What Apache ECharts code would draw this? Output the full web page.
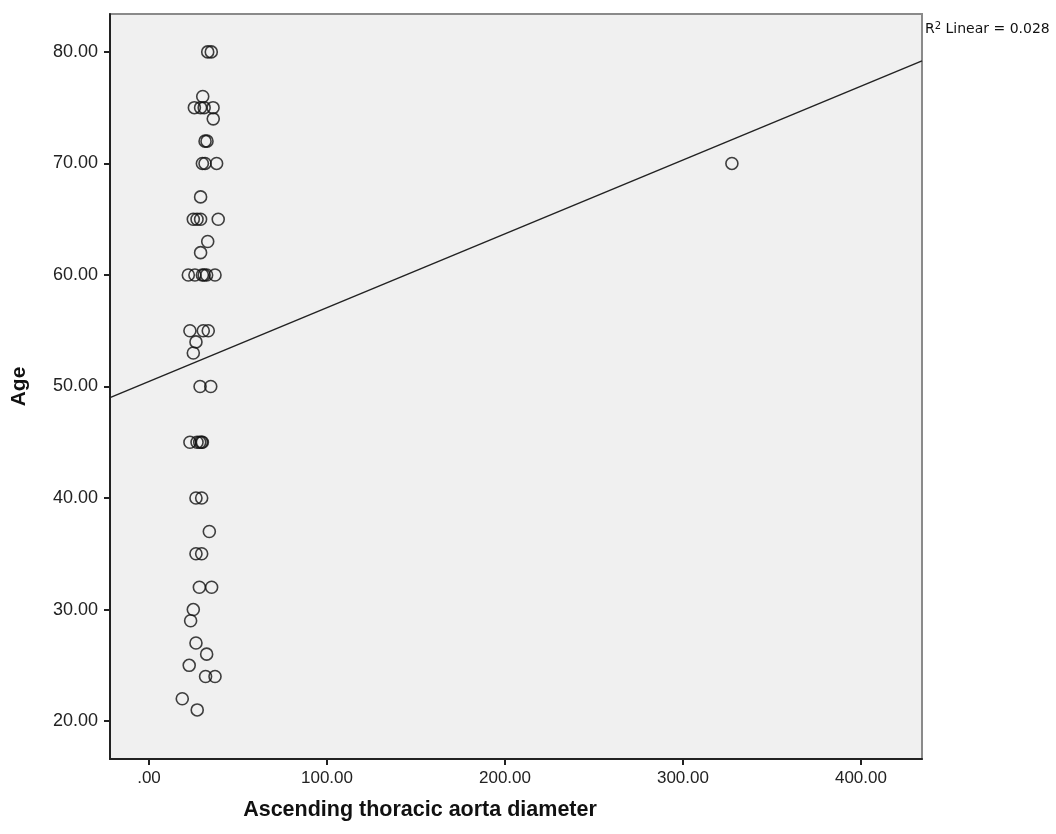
<!DOCTYPE html>
<html>
<head>
<meta charset="utf-8">
<script src="https://cdn.jsdelivr.net/npm/echarts@6/dist/echarts.min.js"></script>
<style>
html,body{margin:0;padding:0;background:#fff;}
#chart{width:1056px;height:834px;}
</style>
</head>
<body>
<div id="chart"></div>
<script>
// Ascending thoracic aorta diameter (x) vs Age (y)
var diameter = [
  33, 35,
  30.2,
  25.5, 29, 31, 36,
  36.1,
  31.5, 32.6,
  30, 31.5, 38,
  29,
  24.9, 27, 29, 38.9,
  33,
  29,
  22.1, 25.8, 30, 31, 32.4, 37.1,
  23, 30.5, 33.3,
  26.4,
  24.9,
  28.7, 34.7,
  23, 27, 28.5, 29.5, 30,
  26.4, 29.6,
  33.9,
  26.4, 29.6,
  28.3, 35.2,
  24.9,
  23.4,
  26.4,
  32.4,
  22.6,
  31.8, 37.1,
  18.7,
  27.1,
  327.5
];
var age = [
  80, 80,
  76,
  75, 75, 75, 75,
  74,
  72, 72,
  70, 70, 70,
  67,
  65, 65, 65, 65,
  63,
  62,
  60, 60, 60, 60, 60, 60,
  55, 55, 55,
  54,
  53,
  50, 50,
  45, 45, 45, 45, 45,
  40, 40,
  37,
  35, 35,
  32, 32,
  30,
  29,
  27,
  26,
  25,
  24, 24,
  22,
  21,
  70
];
var xTicks = [0, 100, 200, 300, 400];
var xTickLabels = ['.00', '100.00', '200.00', '300.00', '400.00'];
var yTicks = [20, 30, 40, 50, 60, 70, 80];
var yTickLabels = ['20.00', '30.00', '40.00', '50.00', '60.00', '70.00', '80.00'];
var xRange = [-21.9, 434.3];
var yRange = [16.6, 83.4];
// fitted line
var fitIntercept = 50.45;
var fitSlope = 0.0662;
var rSquared = '0.028';

var points = diameter.map(function (d, i) { return [d, age[i]]; });
var fitLine = [
  [xRange[0], fitIntercept + fitSlope * xRange[0]],
  [xRange[1], fitIntercept + fitSlope * xRange[1]]
];

var chart = echarts.init(document.getElementById('chart'), null, {renderer: 'canvas'});
var tickFont = {fontFamily: 'Liberation Sans', fontSize: 17, color: '#222'};
chart.setOption({
  animation: false,
  backgroundColor: '#ffffff',
  grid: {
    left: 110, top: 14, right: 134, bottom: 75,
    show: true, backgroundColor: '#f0f0f0', borderColor: '#8a8a8a', borderWidth: 2
  },
  graphic: [
    {
      type: 'text', left: 925, top: 21,
      style: {
        text: '{r|R}{s|2}{r| Linear = ' + rSquared + '}',
        rich: {
          r: {fontFamily: 'DejaVu Sans', fontSize: 14, fill: '#111'},
          s: {fontFamily: 'DejaVu Sans', fontSize: 10, fill: '#111', verticalAlign: 'top', padding: [0, 0, 7, 0]}
        }
      }
    },
    {
      type: 'text', x: 420, y: 810,
      style: {
        text: 'Ascending thoracic aorta diameter', textAlign: 'center', textVerticalAlign: 'middle',
        fontFamily: 'Liberation Sans', fontWeight: 'bold', fontSize: 21.5, fill: '#111'
      }
    }
  ],
  xAxis: {
    type: 'value', min: xRange[0], max: xRange[1],
    axisLine: {show: true, onZero: false, lineStyle: {color: '#222', width: 2}},
    axisTick: {show: true, customValues: xTicks, length: 6, inside: false, lineStyle: {color: '#222', width: 2}},
    axisLabel: {show: true, customValues: xTicks, margin: 11,
      formatter: function (v) { return xTickLabels[xTicks.indexOf(v)]; },
      fontFamily: tickFont.fontFamily, fontSize: tickFont.fontSize, color: tickFont.color},
    splitLine: {show: false}
  },
  yAxis: {
    type: 'value', min: yRange[0], max: yRange[1],
    name: 'Age', nameLocation: 'middle', nameGap: 80, nameRotate: 90,
    nameTextStyle: {fontFamily: 'Liberation Sans', fontWeight: 'bold', fontSize: 21, color: '#111'},
    axisLine: {show: true, onZero: false, lineStyle: {color: '#222', width: 2}},
    axisTick: {show: true, customValues: yTicks, length: 6, inside: false, lineStyle: {color: '#222', width: 2}},
    axisLabel: {show: true, customValues: yTicks, margin: 12,
      formatter: function (v) { return yTickLabels[yTicks.indexOf(v)]; },
      fontFamily: tickFont.fontFamily, fontSize: 18, color: tickFont.color},
    splitLine: {show: false}
  },
  series: [
    {
      type: 'line', data: fitLine, showSymbol: false, symbol: 'none', clip: true,
      lineStyle: {color: '#222', width: 1.5}, silent: true, z: 3
    },
    {
      type: 'scatter', data: points, symbol: 'circle', symbolSize: 12,
      itemStyle: {color: 'rgba(0,0,0,0)', borderColor: '#111', borderWidth: 1.6},
      z: 4
    }
  ]
});
</script>
</body>
</html>
